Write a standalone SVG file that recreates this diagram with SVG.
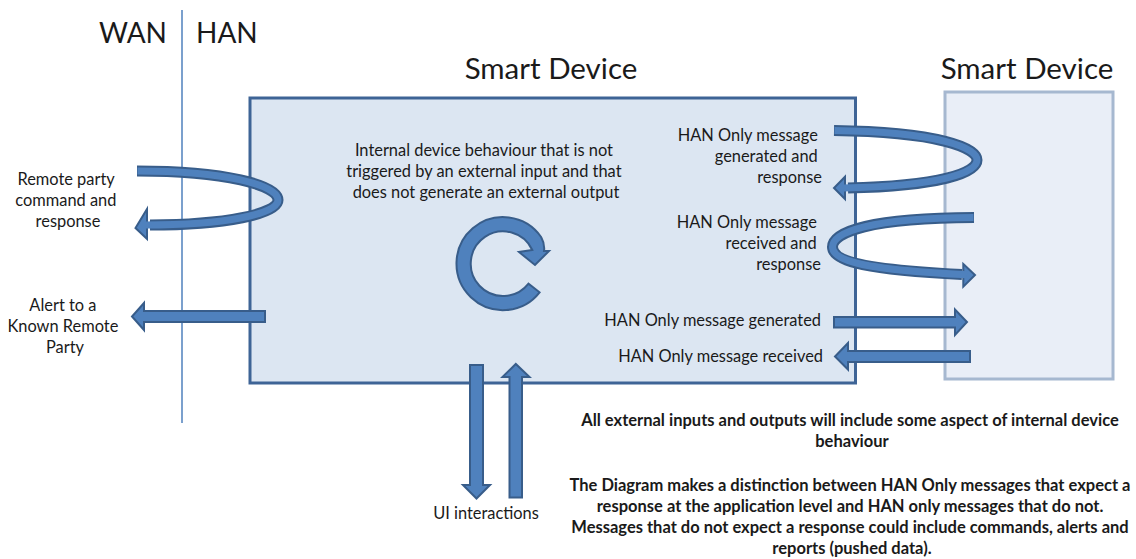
<svg xmlns="http://www.w3.org/2000/svg" width="1136" height="559" viewBox="0 0 1136 559">
  <style>
    .t { font-family: Lato, "Open Sans", "Liberation Sans", sans-serif; fill: #1a1a1a; }
    .big { font-size: 28px; }
    .title { font-size: 29.5px; }
    .lbl { font-size: 16.4px; }
    .note { font-size: 16.5px; font-weight: bold; }
    .arrow { fill: #4f81bd; stroke: #385d8a; stroke-width: 2; stroke-linejoin: miter; }
    .shaftDark { fill: none; stroke: #385d8a; stroke-width: 11; }
    .shaftLight { fill: none; stroke: #4f81bd; stroke-width: 7; }
    .head { fill: #4f81bd; stroke: #385d8a; stroke-width: 2; }
  </style>
  <rect width="1136" height="559" fill="#ffffff"/>

  <g id="divider">
    <line x1="182" y1="10" x2="182" y2="423" stroke="#4f81bd" stroke-width="1.5"/>
    <text class="t big" x="167" y="43" text-anchor="end">WAN</text>
    <text class="t big" x="196" y="43">HAN</text>
  </g>

  <g id="smart-device-main">
    <rect x="250" y="98" width="605.5" height="285" fill="#dce6f2" stroke="#3e6496" stroke-width="3"/>
    <text class="t title" x="551" y="79" text-anchor="middle">Smart Device</text>
    <text class="t lbl" text-anchor="middle">
      <tspan x="486" y="156">Internal device behaviour that is not</tspan>
      <tspan x="486" y="177">triggered by an external input and that</tspan>
      <tspan x="486" y="198">does not generate an external output</tspan>
    </text>
  </g>

  <g id="smart-device-peer">
    <rect x="945" y="92" width="168" height="287" fill="#e9eef7" stroke="#a6b8d0" stroke-width="3"/>
    <text class="t title" x="1027" y="79" text-anchor="middle">Smart Device</text>
  </g>

  <g id="labels">
    <text class="t lbl" text-anchor="middle">
      <tspan x="68" y="185">Remote party</tspan>
      <tspan x="68" y="206">command and</tspan>
      <tspan x="68" y="227">response</tspan>
    </text>
    <text class="t lbl" text-anchor="middle">
      <tspan x="65" y="311">Alert to a</tspan>
      <tspan x="65" y="332">Known Remote</tspan>
      <tspan x="65" y="353">Party</tspan>
    </text>
    <text class="t lbl" text-anchor="end">
      <tspan x="822" y="141">HAN Only message</tspan>
      <tspan x="822" y="162">generated and</tspan>
      <tspan x="822" y="183">response</tspan>
    </text>
    <text class="t lbl" text-anchor="end">
      <tspan x="821" y="228">HAN Only message</tspan>
      <tspan x="821" y="249">received and</tspan>
      <tspan x="821" y="270">response</tspan>
    </text>
    <text class="t lbl" x="821" y="326" text-anchor="end">HAN Only message generated</text>
    <text class="t lbl" x="823" y="362" text-anchor="end">HAN Only message received</text>
    <text class="t lbl" x="486" y="519" text-anchor="middle">UI interactions</text>
  </g>

  <g id="notes">
    <text class="t note" text-anchor="middle">
      <tspan x="852" y="426">All external inputs and outputs will include some aspect of internal device</tspan>
      <tspan x="852" y="447">behaviour</tspan>
    </text>
    <text class="t note" text-anchor="middle">
      <tspan x="852" y="491">The Diagram makes a distinction between HAN Only messages that expect a</tspan>
      <tspan x="852" y="512">response at the application level and HAN only messages that do not.</tspan>
      <tspan x="852" y="533">Messages that do not expect a response could include commands, alerts and</tspan>
      <tspan x="852" y="554">reports (pushed data).</tspan>
    </text>
  </g>

  <g id="connectors">
    <!-- internal behaviour cycle -->
    <path class="arrow" d="M539.6,292.3 A46.5,46.5 0 1 1 541.1,237 Q545,244 544,251 L549,251 L535,265 L519,252 L532.3,250 A32.3,32.3 0 1 0 528.5,283.6 Z"/>

    <!-- remote party command and response -->
    <path class="shaftDark" d="M137,171 C225,171 278,185 278,200 C278,214 225,225 150,225"/>
    <polygon class="head" points="147,209 135.5,228 147,239"/>
    <path class="shaftLight" d="M137.5,171 C225,171 278,185 278,200 C278,214 225,225 145,225"/>

    <!-- alert to known remote party -->
    <path class="arrow" d="M265,311 L144,311 L144,303 L132,316.5 L144,330 L144,322 L265,322 Z"/>

    <!-- HAN message generated and response -->
    <path class="shaftDark" d="M834,130.5 C940,132 977,148 977,160 C977,173 940,186 848,188"/>
    <polygon class="head" points="845,176.7 834,188 845,199"/>
    <path class="shaftLight" d="M834.5,130.5 C940,132 977,148 977,160 C977,173 940,186 843,188"/>

    <!-- HAN message received and response -->
    <path class="shaftDark" d="M974,217.5 C870,218 832.5,232 832.5,247 C832.5,262 870,270 962,274.5"/>
    <polygon class="head" points="963.3,264 975,275 963.3,286.7"/>
    <path class="shaftLight" d="M973.5,217.5 C870,218 832.5,232 832.5,247 C832.5,262 870,270 967,274.7"/>

    <!-- HAN only message generated -->
    <path class="arrow" d="M834,317 L955,317 L955,309.5 L967,322 L955,335 L955,327.5 L834,327.5 Z"/>
    <!-- HAN only message received -->
    <path class="arrow" d="M970,351 L848,351 L848,343 L835,356.5 L848,369.5 L848,362 L970,362 Z"/>

    <!-- UI interactions -->
    <path class="arrow" d="M470,365 L483,365 L483,485 L490,485 L476.5,498.5 L463,485 L470,485 Z"/>
    <path class="arrow" d="M509.5,497.5 L522,497.5 L522,377 L529.5,377 L515.8,364 L502.5,377 L509.5,377 Z"/>
  </g>
</svg>
